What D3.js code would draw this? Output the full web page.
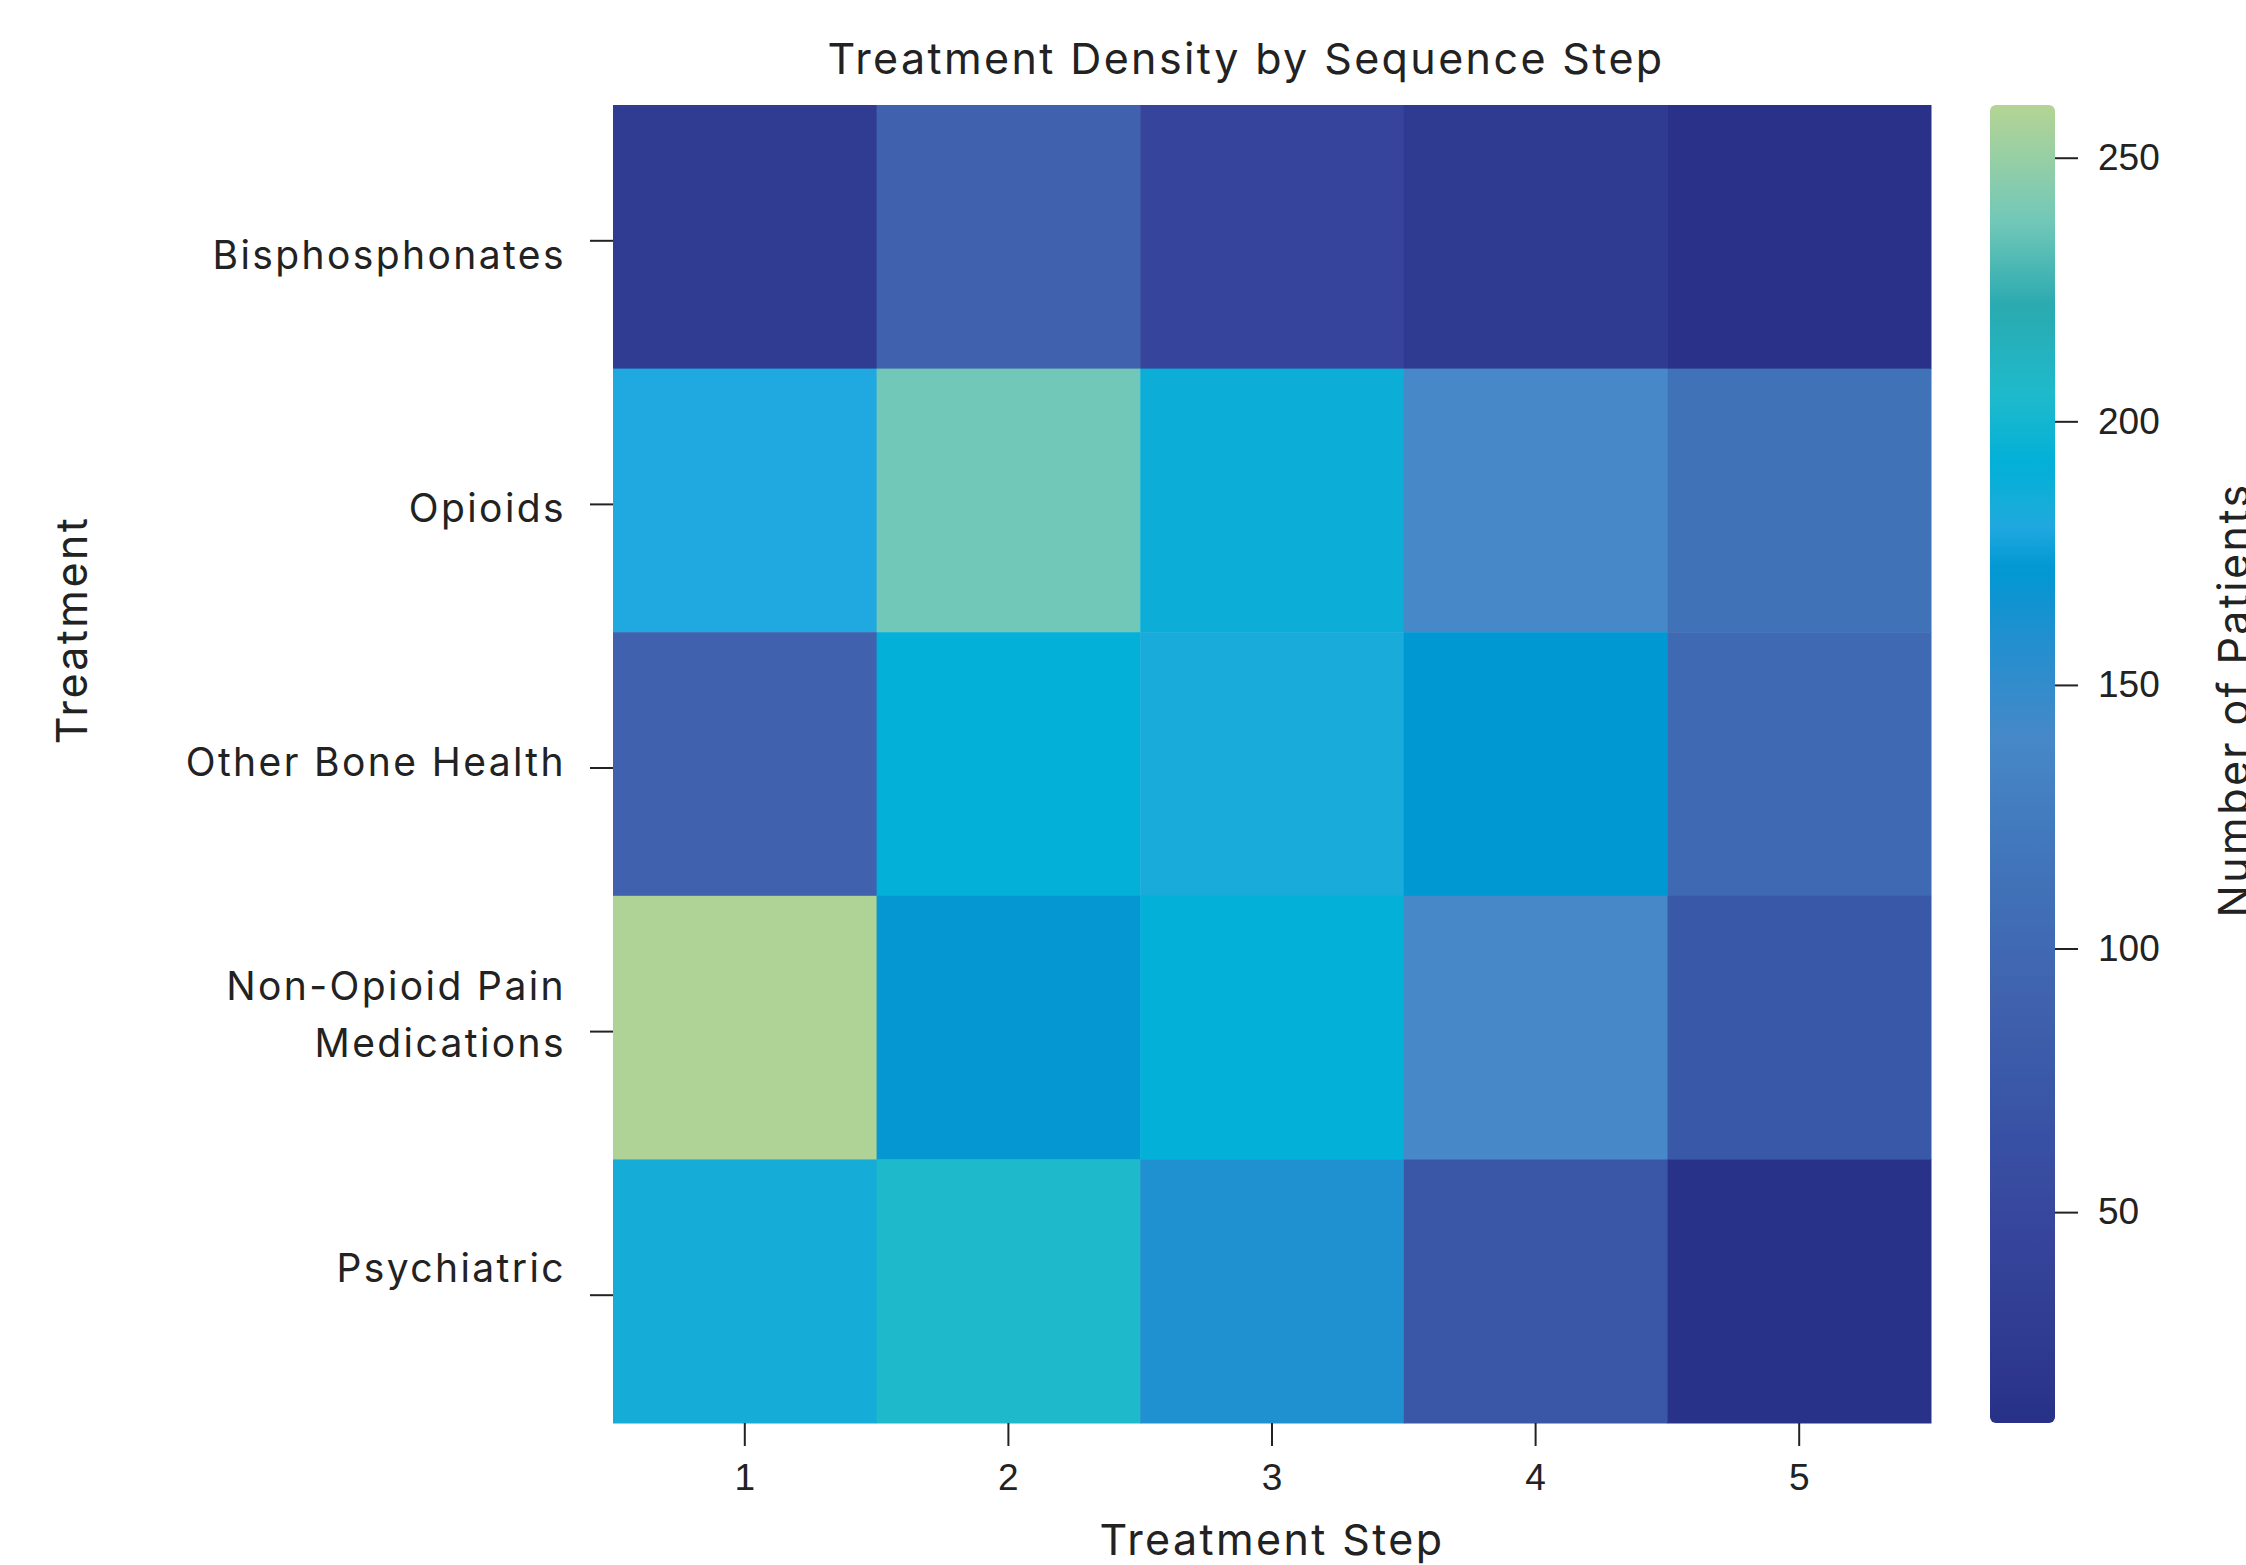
<!DOCTYPE html>
<html>
<head>
<meta charset="utf-8">
<title>Treatment Density by Sequence Step</title>
<script src="https://cdn.jsdelivr.net/npm/d3@7"></script>
<style>
  html, body { margin: 0; padding: 0; background: #fff; }
  svg { display: block; font-family: Inter, "Noto Sans", sans-serif; }
  .axis text { fill: #222; }
  .axis line { stroke: #222; stroke-width: 2; }
  .axis path { display: none; }
  .label { fill: #222; font-size: 43px; letter-spacing: 2.4px; }
  .ylab { fill: #222; font-size: 39px; letter-spacing: 2.4px; }
</style>
</head>
<body>
<svg id="chart"></svg>
<script>
"use strict";

// categories
const treatments = [ 'Bisphosphonates', 'Opioids', 'Other Bone Health', 'Non-Opioid Pain Medications', 'Psychiatric' ];
const steps      = [ 1, 2, 3, 4, 5 ];

// number of patients per treatment (rows) and step (columns)
const bisphosphonates = [  28,  90,  45,  25,  12 ];
const opioids         = [ 180, 238, 188, 140, 112 ];
const otherBone       = [  90, 192, 183, 172, 100 ];
const nonOpioid       = [ 258, 170, 192, 140,  75 ];
const psychiatric     = [ 184, 205, 160,  72,  13 ];

// colour bar
const cbarDomain = [ 10, 260 ];
const cbarTicks  = [ 50, 100, 150, 200, 250 ];

// colour stops of the palette
const stopValues = [ 10, 25, 45, 75, 90, 112, 140, 160, 172, 180, 184, 192, 205, 222, 238, 260 ];
const stopColors = [ '#283087', '#2e3b90', '#36449b', '#3a58a8', '#4062ae', '#4072b8', '#4688c8',
                     '#1f90d0', '#0098d2', '#20a8e0', '#16acd8', '#02b0d8', '#1ebacc', '#2aaab0', '#72c8b8', '#b5d494' ];

const rows = [ bisphosphonates, opioids, otherBone, nonOpioid, psychiatric ];

const width = 2246, height = 1565;
const plot = { left: 613, top: 105, right: 1931, bottom: 1423 };
const cbar = { left: 1990, width: 65 };

// flatten to cells
const cells = [];
rows.forEach( (vals, r) => {
  vals.forEach( (v, c) => {
    cells.push( { treatment: treatments[r], step: steps[c], value: v } );
  });
});

const svg = d3.select('#chart')
  .attr('width', width)
  .attr('height', height)
  .attr('viewBox', '0 0 ' + width + ' ' + height);

// scales
const x = d3.scaleBand()
  .domain(steps)
  .range([plot.left, plot.right]);

const y = d3.scaleBand()
  .domain(treatments)
  .range([plot.top, plot.bottom]);

// tick labels sit a little closer together than the rows
const yLabel = d3.scalePoint()
  .domain(treatments)
  .range([plot.top + 150, plot.bottom - 155]);

const color = d3.scaleLinear()
  .domain(stopValues)
  .range(stopColors)
  .interpolate(d3.interpolateRgb)
  .clamp(true);

const yc = d3.scaleLinear()
  .domain(cbarDomain)
  .range([plot.bottom, plot.top]);

// heatmap cells
svg.append('g')
  .selectAll('rect')
  .data(cells)
  .enter().append('rect')
    .attr('x', (d) => x(d.step))
    .attr('y', (d) => y(d.treatment))
    .attr('width', x.bandwidth() + 0.5)
    .attr('height', y.bandwidth() + 0.5)
    .attr('fill', (d) => color(d.value));

// x-axis
svg.append('g')
    .attr('class', 'x axis')
    .attr('transform', 'translate(0,' + plot.bottom + ')')
    .call(d3.axisBottom(x).tickSize(23).tickPadding(18))
    .selectAll('text')
      .style('font-size', '37px');

// y-axis ticks
svg.append('g')
    .attr('class', 'y axis')
    .attr('transform', 'translate(' + plot.left + ',4)')
    .call(d3.axisLeft(y).tickSize(23).tickFormat(''));

// y tick labels, long ones wrapped on two lines
svg.append('g')
  .selectAll('text')
  .data(treatments)
  .enter().append('text')
    .attr('class', 'ylab')
    .attr('text-anchor', 'end')
    .attr('y', (d) => yLabel(d))
    .each(function(d) {
      const t = d3.select(this);
      const words = d.split(' ');
      const lines = d.length > 20
        ? [ words.slice(0, -1).join(' '), words[words.length - 1] ]
        : [ d ];
      lines.forEach( (line, i) => {
        t.append('tspan')
          .attr('x', 566)
          .attr('dy', i === 0 ? (0.36 - (lines.length - 1) * 0.73) + 'em' : '1.46em')
          .text(line);
      });
    });

// colour bar gradient
const grad = svg.append('defs')
  .append('linearGradient')
    .attr('id', 'cbar-grad')
    .attr('x1', 0).attr('y1', 1)
    .attr('x2', 0).attr('y2', 0);

grad.selectAll('stop')
  .data(d3.range(0, 101).map( (i) => cbarDomain[0] + i / 100 * (cbarDomain[1] - cbarDomain[0]) ))
  .enter().append('stop')
    .attr('offset', (d) => ((d - cbarDomain[0]) / (cbarDomain[1] - cbarDomain[0]) * 100) + '%')
    .attr('stop-color', (d) => color(d));

svg.append('rect')
  .attr('x', cbar.left)
  .attr('y', yc(cbarDomain[1]))
  .attr('width', cbar.width)
  .attr('height', yc(cbarDomain[0]) - yc(cbarDomain[1]))
  .attr('rx', 6)
  .attr('fill', 'url(#cbar-grad)');

svg.append('g')
    .attr('class', 'c axis')
    .attr('transform', 'translate(' + (cbar.left + cbar.width) + ',0)')
    .call(d3.axisRight(yc).tickValues(cbarTicks).tickSize(23).tickPadding(20))
    .selectAll('text')
      .style('font-size', '37px');

// titles
svg.append('text')
  .attr('class', 'label')
  .attr('x', 1246)
  .attr('y', 74)
  .attr('text-anchor', 'middle')
  .text('Treatment Density by Sequence Step');

svg.append('text')
  .attr('class', 'label')
  .attr('x', (plot.left + plot.right) / 2)
  .attr('y', 1555)
  .attr('text-anchor', 'middle')
  .text('Treatment Step');

svg.append('text')
  .attr('class', 'label')
  .attr('transform', 'translate(87,630) rotate(-90)')
  .attr('text-anchor', 'middle')
  .text('Treatment');

svg.append('text')
  .attr('class', 'label')
  .attr('transform', 'translate(2249,700) rotate(-90)')
  .attr('text-anchor', 'middle')
  .text('Number of Patients');
</script>
</body>
</html>
